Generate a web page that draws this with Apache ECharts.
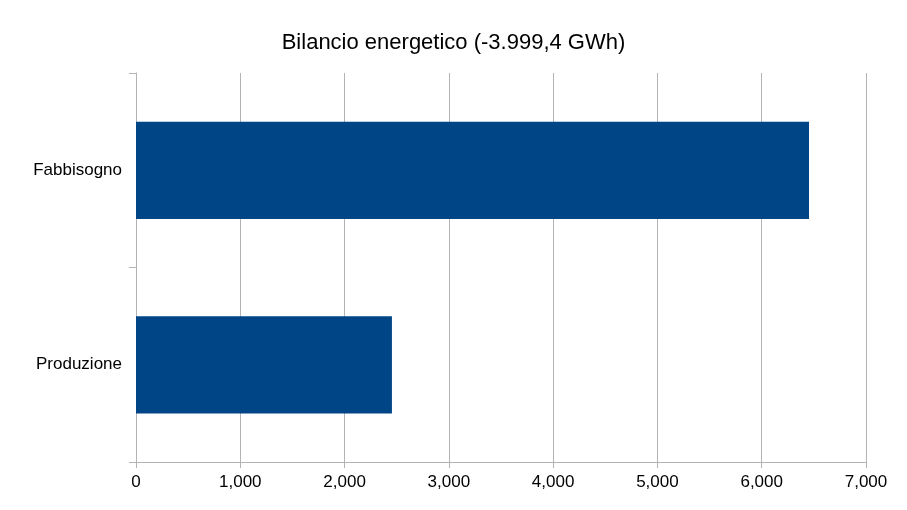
<!DOCTYPE html>
<html><head><meta charset="utf-8">
<script src="https://cdn.jsdelivr.net/npm/echarts@6/dist/echarts.min.js"></script>
<style>html,body{margin:0;padding:0;background:#fff}#c{width:907px;height:510px}</style>
</head><body><div id="c"></div>
<script>
const titleText = 'Bilancio energetico (-3.999,4 GWh)';
const categories = ['Produzione', 'Fabbisogno'];
const values = [2454.1, 6453.5];
const xTicks = [0, 1000, 2000, 3000, 4000, 5000, 6000, 7000];

const chart = echarts.init(document.getElementById('c'));
chart.setOption({
  backgroundColor: '#fff',
  animation: false,
  textStyle: { fontFamily: 'Liberation Sans' },
  title: { text: titleText, left: 'center', top: 27,
    textStyle: { fontFamily: 'Liberation Sans', fontSize: 22, fontWeight: 'normal', color: '#000' } },
  grid: { left: 136, right: 41, top: 73, bottom: 48 },
  xAxis: {
    type: 'value', min: xTicks[0], max: xTicks[xTicks.length - 1], interval: 1000,
    axisLine: { show: true, lineStyle: { color: '#b3b3b3' } },
    axisTick: { show: true, length: 6, lineStyle: { color: '#b3b3b3' } },
    axisLabel: { color: '#000', fontSize: 17, margin: 12 },
    splitLine: { show: true, lineStyle: { color: '#b3b3b3' } }
  },
  yAxis: {
    type: 'category', data: categories,
    axisLine: { show: true, lineStyle: { color: '#b3b3b3' } },
    axisTick: { show: true, length: 7, lineStyle: { color: '#b3b3b3' } },
    axisLabel: { color: '#000', fontSize: 17, margin: 14 }
  },
  series: [{ type: 'bar', data: values, barCategoryGap: '50%', itemStyle: { color: '#004586' } }]
});
</script></body></html>
